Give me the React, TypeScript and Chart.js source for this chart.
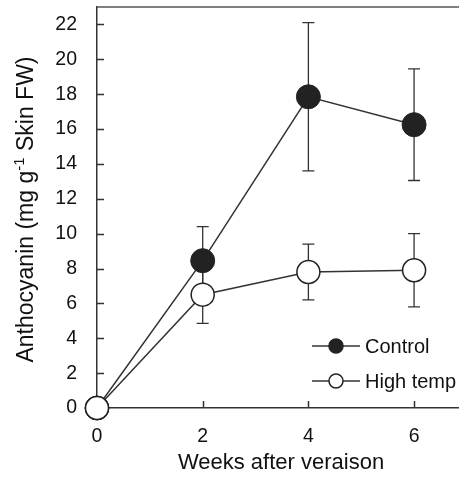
import React, { useEffect, useRef } from "react";
import { Chart, registerables } from "chart.js";

Chart.register(...registerables);

// Weeks after veraison
const WEEKS = [0, 2, 4, 6];
// Anthocyanin means (mg g-1 skin FW) and their standard errors
const CONTROL = [0, 8.45, 17.85, 16.25];
const CONTROL_ERR = [0, 1.95, 4.25, 3.2];
const HIGH_TEMP = [0, 6.5, 7.8, 7.9];
const HIGH_TEMP_ERR = [0, 1.65, 1.6, 2.1];

const X_TICKS = [0, 2, 4, 6];
const Y_TICKS = [0, 2, 4, 6, 8, 10, 12, 14, 16, 18, 20, 22];

const FONT = '"Liberation Sans", Arial, sans-serif';
const INK = "#222";
const LINE = "#333";

const ERRORS = [HIGH_TEMP_ERR, CONTROL_ERR];

const noPadding = (s: any) => {
  s.paddingLeft = 0;
  s.paddingRight = 0;
  s.paddingTop = 0;
  s.paddingBottom = 0;
};

const frame = {
  id: "frame",
  beforeDatasetsDraw(chart: any) {
    const { ctx, chartArea, scales } = chart;
    const { left, right, top, bottom } = chartArea;
    ctx.save();
    // top border
    ctx.strokeStyle = "#555";
    ctx.lineWidth = 1.5;
    ctx.beginPath();
    ctx.moveTo(left, top);
    ctx.lineTo(right + 2, top);
    ctx.stroke();
    // inward tick marks
    ctx.strokeStyle = LINE;
    ctx.lineWidth = 1.5;
    ctx.beginPath();
    for (const v of Y_TICKS) {
      const y = Math.round(scales.y.getPixelForValue(v)) + 0.5;
      ctx.moveTo(left, y);
      ctx.lineTo(left + 7, y);
    }
    for (const v of X_TICKS) {
      const x = Math.round(scales.x.getPixelForValue(v)) + 0.5;
      ctx.moveTo(x, bottom);
      ctx.lineTo(x, bottom - 7);
    }
    ctx.stroke();
    // error bars
    ctx.strokeStyle = LINE;
    ctx.lineWidth = 1.3;
    chart.data.datasets.forEach((ds: any, di: number) => {
      const meta = chart.getDatasetMeta(di);
      const errs = ERRORS[di];
      ds.data.forEach((p: any, i: number) => {
        const e = errs[i];
        if (!e) return;
        const x = meta.data[i].x;
        const yHi = scales.y.getPixelForValue(p.y + e);
        const yLo = scales.y.getPixelForValue(p.y - e);
        ctx.beginPath();
        ctx.moveTo(x, yHi);
        ctx.lineTo(x, yLo);
        ctx.moveTo(x - 6, yHi);
        ctx.lineTo(x + 6, yHi);
        ctx.moveTo(x - 6, yLo);
        ctx.lineTo(x + 6, yLo);
        ctx.stroke();
      });
    });
    ctx.restore();
  },
  afterDraw(chart: any) {
    const { ctx, chartArea } = chart;
    ctx.save();
    ctx.fillStyle = "#111";
    // x title
    ctx.font = `22px ${FONT}`;
    ctx.textAlign = "center";
    ctx.textBaseline = "alphabetic";
    ctx.fillText("Weeks after veraison", (chartArea.left + chartArea.right) / 2 + 3, 469);

    // y title with superscript
    const big = `23px ${FONT}`;
    const small = `15px ${FONT}`;
    const parts = [
      { t: "Anthocyanin (mg g", f: big, dy: 0 },
      { t: "-1", f: small, dy: -9 },
      { t: " Skin FW)", f: big, dy: 0 },
    ];
    let total = 0;
    for (const p of parts) {
      ctx.font = p.f;
      total += ctx.measureText(p.t).width;
    }
    const cy = (chartArea.top + chartArea.bottom) / 2 + 2;
    ctx.translate(33, cy);
    ctx.rotate(-Math.PI / 2);
    ctx.textAlign = "left";
    let cx = -total / 2;
    for (const p of parts) {
      ctx.font = p.f;
      ctx.fillText(p.t, cx, p.dy);
      cx += ctx.measureText(p.t).width;
    }
    ctx.restore();

    // legend
    ctx.save();
    const items = [
      { label: "Control", fill: INK, y: 346 },
      { label: "High temp", fill: "#fff", y: 381 },
    ];
    for (const it of items) {
      ctx.strokeStyle = LINE;
      ctx.lineWidth = 1.5;
      ctx.beginPath();
      ctx.moveTo(312, it.y);
      ctx.lineTo(360, it.y);
      ctx.stroke();
      ctx.beginPath();
      ctx.arc(336, it.y, 7, 0, Math.PI * 2);
      ctx.fillStyle = it.fill;
      ctx.fill();
      ctx.strokeStyle = INK;
      ctx.lineWidth = 1.5;
      ctx.stroke();
      ctx.fillStyle = "#111";
      ctx.font = `20px ${FONT}`;
      ctx.textAlign = "left";
      ctx.textBaseline = "middle";
      ctx.fillText(it.label, 365, it.y + 1);
    }
    ctx.restore();
  },
};

export default function App() {
  const ref = useRef<HTMLCanvasElement>(null);

  useEffect(() => {
    if (!ref.current) return;
    const chart = new Chart(ref.current, {
      type: "line",
      data: {
        datasets: [
          {
            label: "High temp",
            data: WEEKS.map((w, i) => ({ x: w, y: HIGH_TEMP[i] })),
            borderColor: LINE,
            borderWidth: 1.5,
            pointRadius: 11.5,
            pointBackgroundColor: "#fff",
            pointBorderColor: INK,
            pointBorderWidth: 1.5,
            clip: false as any,
          },
          {
            label: "Control",
            data: WEEKS.map((w, i) => ({ x: w, y: CONTROL[i] })),
            borderColor: LINE,
            borderWidth: 1.5,
            pointRadius: 12,
            pointBackgroundColor: INK,
            pointBorderColor: INK,
            pointBorderWidth: 1,
            clip: false as any,
          },
        ],
      },
      options: {
        animation: false,
        responsive: true,
        maintainAspectRatio: false,
        layout: { autoPadding: false, padding: { top: 7, left: 0, right: 0, bottom: 0 } },
        plugins: { legend: { display: false }, tooltip: { enabled: false } },
        scales: {
          x: {
            type: "linear",
            min: 0,
            max: 6.85,
            afterBuildTicks: (s: any) => {
              s.ticks = X_TICKS.map((v) => ({ value: v }));
            },
            afterFit: (s: any) => {
              s.height = 73;
              noPadding(s);
            },
            grid: { display: false, drawTicks: false },
            border: { display: true, color: LINE, width: 1.5 },
            ticks: {
              padding: 17,
              color: "#111",
              font: { family: FONT, size: 19.5 },
              maxRotation: 0,
            },
          },
          y: {
            type: "linear",
            min: 0,
            max: 23,
            afterBuildTicks: (s: any) => {
              s.ticks = Y_TICKS.map((v) => ({ value: v }));
            },
            afterFit: (s: any) => {
              s.width = 97;
              noPadding(s);
            },
            grid: { display: false, drawTicks: false },
            border: { display: true, color: LINE, width: 1.5 },
            ticks: {
              padding: 20,
              color: "#111",
              font: { family: FONT, size: 19.5 },
            },
          },
        },
      },
      plugins: [frame],
    });
    return () => chart.destroy();
  }, []);

  return (
    <div style={{ position: "absolute", left: 0, top: 0, width: 459, height: 481, background: "#fff" }}>
      <canvas ref={ref} />
    </div>
  );
}
